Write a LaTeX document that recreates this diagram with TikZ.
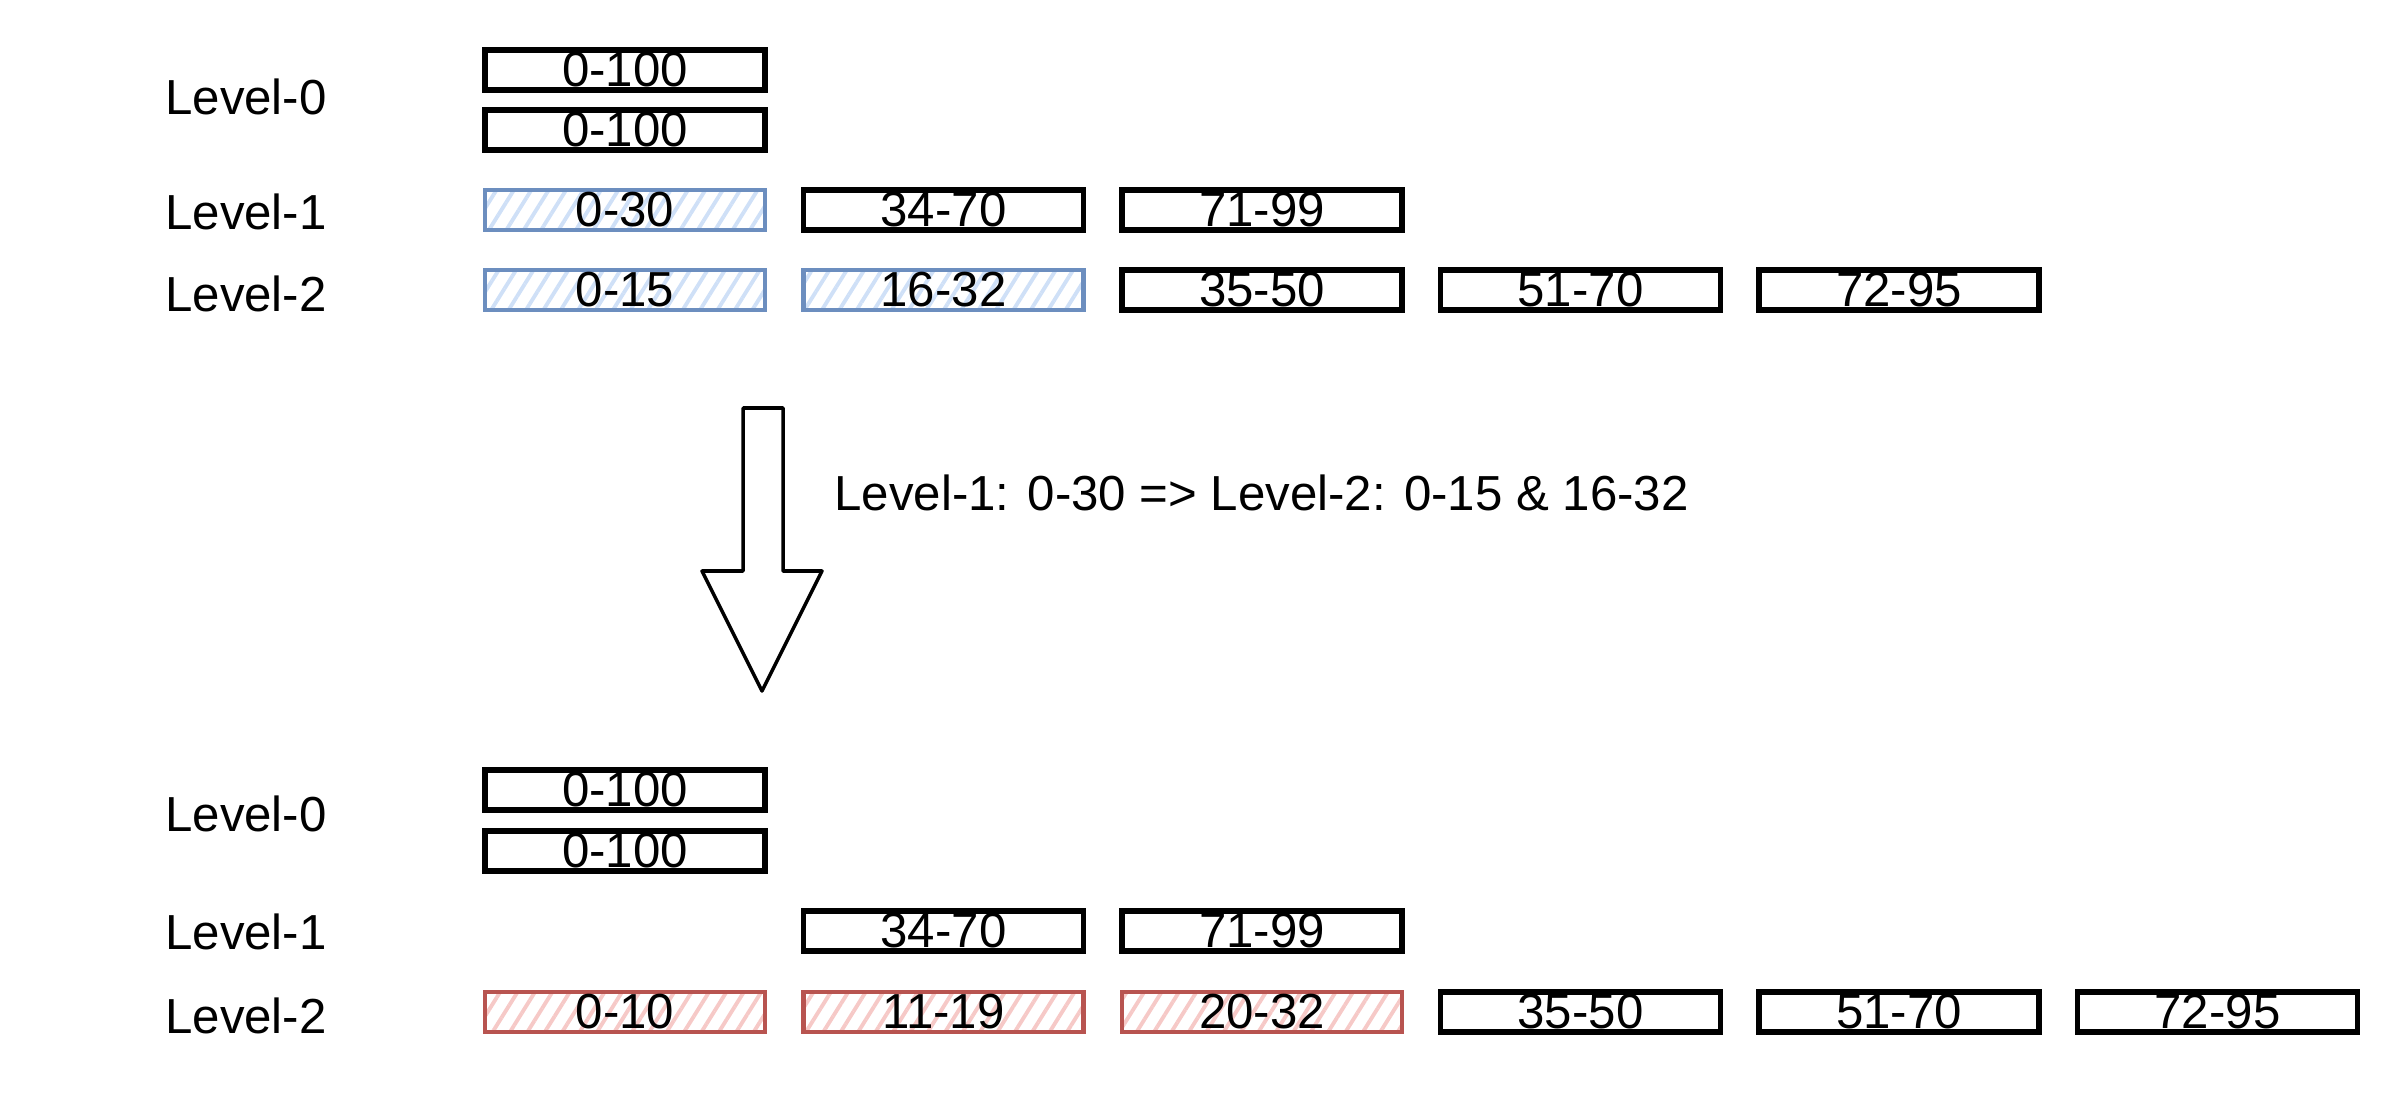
\documentclass[tikz,border=0pt]{standalone}
\usepackage{fontspec}
\setmainfont{Liberation Sans}
\usepackage{tikz}
\usetikzlibrary{patterns.meta}
\definecolor{blueline}{HTML}{6C8EBF}
\definecolor{bluehatch}{HTML}{CFE0F7}
\definecolor{redline}{HTML}{B85450}
\definecolor{redhatch}{HTML}{F6C9C7}
\begin{document}
\begin{tikzpicture}[font=\fontsize{14}{16}\selectfont,
  run/.style={draw, line width=1.5pt, minimum width=2.8cm, minimum height=0.4cm, inner sep=0pt},
  oldrun/.style={run, draw=blueline, line width=1.2pt,
    pattern={Lines[angle=58,distance=4.2pt,line width=1.1pt]}, pattern color=bluehatch},
  newrun/.style={run, draw=redline, line width=1.2pt,
    pattern={Lines[angle=58,distance=4.2pt,line width=1.1pt]}, pattern color=redhatch}]
  \useasboundingbox (0,0) rectangle (24.08,10.96);
  % before the compaction
  \node (a0) at (2.46,9.99) {Level-0}; \node (a1) at (2.46,8.84) {Level-1};
  \node (a2) at (2.46,8.02) {Level-2};
  \node[run] (a0x) at (6.25,10.26) {0-100};
  \node[run] (a0y) at (6.25,9.66) {0-100};
  \node[oldrun] (a1x) at (6.25,8.86) {0-30};
  \node[run] (a1y) at (9.435,8.86) {34-70};
  \node[run] (a1z) at (12.62,8.86) {71-99};
  \node[oldrun] (a2x) at (6.25,8.06) {0-15};
  \node[oldrun] (a2y) at (9.435,8.06) {16-32};
  \node[run] (a2z) at (12.62,8.06) {35-50};
  \node[run] (a2u) at (15.805,8.06) {51-70};
  \node[run] (a2v) at (18.99,8.06) {72-95};
  % the block arrow
  \draw[line width=1pt, line join=round, fill=white] (7.43,6.88) -- (7.83,6.88)
    -- (7.83,5.25) -- (8.22,5.25) -- (7.62,4.05) -- (7.02,5.25) -- (7.43,5.25)
    -- cycle;
  \node[anchor=west] (step) at (8.22,6.03) {Level-1: 0-30 =>
    Level-2: 0-15 \& 16-32};
  % after the compaction
  \node (b0) at (2.46,2.82) {Level-0}; \node (b1) at (2.46,1.64) {Level-1};
  \node (b2) at (2.46,0.80) {Level-2};
  \node[run] (b0x) at (6.25,3.06) {0-100};
  \node[run] (b0y) at (6.25,2.45) {0-100};
  \node[run] (b1y) at (9.435,1.65) {34-70};
  \node[run] (b1z) at (12.62,1.65) {71-99};
  \node[newrun] (b2x) at (6.25,0.84) {0-10};
  \node[newrun] (b2y) at (9.435,0.84) {11-19};
  \node[newrun] (b2z) at (12.62,0.84) {20-32};
  \node[run] (b2u) at (15.805,0.84) {35-50};
  \node[run] (b2v) at (18.99,0.84) {51-70};
  \node[run] (b2w) at (22.175,0.84) {72-95};
\end{tikzpicture}
\end{document}
